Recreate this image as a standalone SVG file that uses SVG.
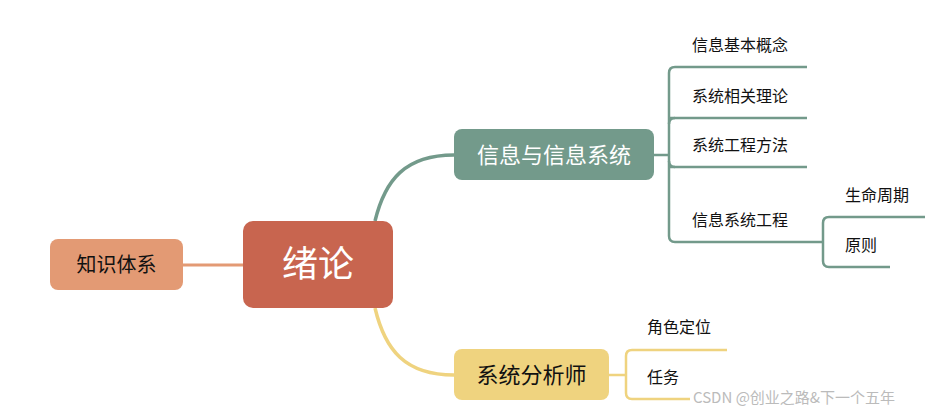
<svg xmlns="http://www.w3.org/2000/svg" width="950" height="416" viewBox="0 0 950 416">
<style>
text{font-family:"Noto Sans CJK SC","Liberation Sans",sans-serif}
.t{font-size:16px;fill:#111}
.g{fill:none;stroke:#739a8b;stroke-width:2.5}
.y{fill:none;stroke:#efd37f;stroke-width:2.5}
</style>
<rect width="950" height="416" fill="#fff"/>
<g id="connectors">
<path d="M183 265 H243" stroke="#e39a74" stroke-width="3" fill="none"/>
<path d="M375 221 C385 180 405 155 454 155" stroke="#739a8b" stroke-width="3.5" fill="none"/>
<path d="M375 308 C385 350 405 375 454 375" stroke="#efd37f" stroke-width="3.5" fill="none"/>
<path class="g" d="M654 155 H669"/>
<path class="g" d="M807 67 H675 Q669 67 669 73 V236 Q669 242 675 242 H823"/>
<path class="g" d="M669 118 H807 M669 167 H807"/>
<path class="g" d="M669 118 M675 118 Q669 118 669 124 M675 167 Q669 167 669 161"/>
<path class="g" d="M925 217 H829 Q823 217 823 223 V261 Q823 267 829 267 H890"/>
<path class="y" d="M609 375 H626"/>
<path class="y" d="M727 350 H632 Q626 350 626 356 V393 Q626 399 632 399 H690"/>
</g>
<g id="n-zhishi"><rect x="50" y="239" width="133" height="51" rx="8" fill="#e39a74"/><text x="116.5" y="272" font-size="20" text-anchor="middle" fill="#111">知识体系</text></g>
<g id="n-xulun"><rect x="243" y="221" width="150" height="87" rx="10" fill="#c8654f"/><text x="318" y="277" font-size="36" text-anchor="middle" fill="#fff">绪论</text></g>
<g id="n-xinxi"><rect x="454" y="129" width="200" height="51" rx="8" fill="#739a8b"/><text x="554" y="163" font-size="22" text-anchor="middle" fill="#fff">信息与信息系统</text></g>
<g id="n-fenxi"><rect x="454" y="349" width="155" height="51" rx="8" fill="#efd37f"/><text x="531.5" y="383" font-size="22" text-anchor="middle" fill="#111">系统分析师</text></g>
<g id="leaves">
<text class="t" x="692" y="51">信息基本概念</text>
<text class="t" x="692" y="102">系统相关理论</text>
<text class="t" x="692" y="151">系统工程方法</text>
<text class="t" x="692" y="226">信息系统工程</text>
<text class="t" x="845" y="201">生命周期</text>
<text class="t" x="845" y="251">原则</text>
<text class="t" x="647" y="333">角色定位</text>
<text class="t" x="647" y="383">任务</text>
</g>
<text x="693" y="403" font-size="15" fill="#bbb">CSDN @创业之路&amp;下一个五年</text>
</svg>
